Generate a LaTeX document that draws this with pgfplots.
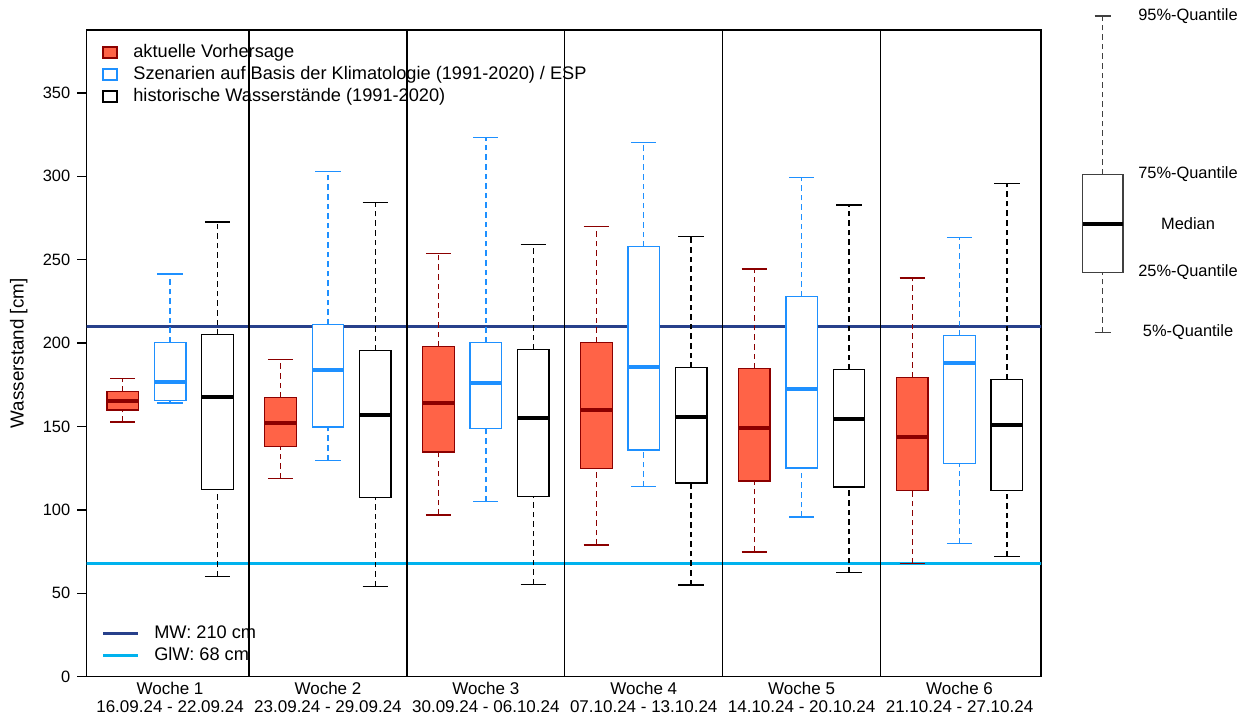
\documentclass[border=0pt]{standalone}
\usepackage{fontspec}
\setmainfont{Liberation Sans}
\usepackage{pgfplots}
\pgfplotsset{compat=1.18}
\definecolor{tomato}{HTML}{FF6347}
\definecolor{dkred}{HTML}{8B0000}
\definecolor{dblue}{HTML}{1E90FF}
\definecolor{mwcol}{HTML}{27408B}
\definecolor{giwcol}{HTML}{00B2EE}
\newcommand\fs{\fontsize{8.2}{9.2}\selectfont}
\newcommand\fsx{\fontsize{8.5}{9.2}\selectfont}
\newcommand\fsl{\fontsize{9.1}{10.5}\selectfont}
\newcommand\fsy{\fontsize{9.4}{11}\selectfont}
\pgfplotsset{
  sqlegend/.style={legend image code/.code={\draw[##1] (0pt,-2.8pt) rectangle (7pt,2.8pt);}},
  linelegend/.style={legend image code/.code={\draw[##1] (0pt,0pt) -- (17.5pt,0pt);}},
}
% #1 line colour, #2 fill colour, #3 position, #4 5%, #5 25%, #6 median, #7 75%, #8 95%
\newcommand{\bx}[8]{%
  \pgfmathsetmacro\bxl{#3-0.1}\pgfmathsetmacro\bxr{#3+0.1}%
  \pgfmathsetmacro\bcl{#3-0.08}\pgfmathsetmacro\bcr{#3+0.08}%
  \addplot[#1, line width=0.65pt, dash pattern=on 2.8pt off 2pt, forget plot] coordinates {(#3,#4) (#3,#5)};
  \addplot[#1, line width=0.65pt, dash pattern=on 2.8pt off 2pt, forget plot] coordinates {(#3,#7) (#3,#8)};
  \addplot[#1, line width=0.65pt, forget plot] coordinates {(\bcl,#4) (\bcr,#4)};
  \addplot[#1, line width=0.65pt, forget plot] coordinates {(\bcl,#8) (\bcr,#8)};
  \addplot[draw=#1, fill=#2, line width=0.65pt, forget plot] coordinates {(\bxl,#5) (\bxr,#5) (\bxr,#7) (\bxl,#7)} -- cycle;
  \addplot[#1, line width=2pt, forget plot] coordinates {(\bxl,#6) (\bxr,#6)};
}
\begin{document}
\begin{tikzpicture}
\path[use as bounding box] (0,0) rectangle (624.5pt,358.5pt);
\begin{axis}[
  at={(43.35pt,20.15pt)}, anchor=south west,
  scale only axis, width=477.15pt, height=323.35pt,
  xmin=0.472, xmax=6.516, ymin=0, ymax=387.7,
  axis line style={line width=0.65pt},
  ytick={0,50,...,350},
  tick align=outside, major tick length=4.75pt,
  ytick pos=left, xtick pos=bottom,
  tick style={black, line width=0.65pt},
  xtick={1,...,6}, xtick style={draw=none},
  xticklabels={{Woche 1\\16.09.24 - 22.09.24},{Woche 2\\23.09.24 - 29.09.24},{Woche 3\\30.09.24 - 06.10.24},{Woche 4\\07.10.24 - 13.10.24},{Woche 5\\14.10.24 - 20.10.24},{Woche 6\\21.10.24 - 27.10.24}},
  xticklabel style={align=center, font=\fsx, yshift=5.6pt},
  yticklabel style={font=\fs},
  /pgf/number format/assume math mode=true,
  ylabel={Wasserstand [cm]},
  ylabel style={font=\fsy, at={(axis description cs:-0.0713,0.5)}, anchor=center},
  legend style={at={(axis description cs:0.016,0.979)}, anchor=north west, draw=none, fill=none, inner sep=0pt, font=\fsl, row sep=2.5pt, column sep=7.85pt, nodes={inner sep=0pt, text height=6.6pt, text depth=1.9pt}},
  legend cell align=left,
]
\addplot[mwcol, line width=1.5pt, forget plot] coordinates {(0,210) (7,210)};
\addplot[giwcol, line width=1.5pt, forget plot] coordinates {(0,68) (7,68)};
\addplot[black, line width=0.65pt, forget plot] coordinates {(1.5,0) (1.5,400)};
\addplot[black, line width=0.65pt, forget plot] coordinates {(2.5,0) (2.5,400)};
\addplot[black, line width=0.65pt, forget plot] coordinates {(3.5,0) (3.5,400)};
\addplot[black, line width=0.65pt, forget plot] coordinates {(4.5,0) (4.5,400)};
\addplot[black, line width=0.65pt, forget plot] coordinates {(5.5,0) (5.5,400)};
% week 1
\bx{dkred}{tomato}{0.7}{152.7}{159.9}{165.5}{170.8}{178.9}
\bx{dblue}{white}{1.0}{164}{165.5}{176.5}{200.4}{241.5}
\bx{black}{white}{1.3}{60}{112.4}{167.7}{205}{272.6}
% week 2
\bx{dkred}{tomato}{1.7}{118.7}{137.9}{152.1}{167.2}{190}
\bx{dblue}{white}{2.0}{129.8}{149.7}{183.8}{211.2}{303}
\bx{black}{white}{2.3}{54.1}{107.4}{156.9}{195.4}{284.4}
% week 3
\bx{dkred}{tomato}{2.7}{97}{134.7}{164.1}{197.8}{253.5}
\bx{dblue}{white}{3.0}{105}{148.7}{176.2}{200.4}{323.2}
\bx{black}{white}{3.3}{55.3}{108}{155.3}{196}{259.1}
% week 4
\bx{dkred}{tomato}{3.7}{79}{124.7}{159.9}{200.4}{270}
\bx{dblue}{white}{4.0}{114}{135.9}{185.4}{257.7}{320.4}
\bx{black}{white}{4.3}{54.9}{116.2}{155.5}{185.2}{264}
% week 5
\bx{dkred}{tomato}{4.7}{74.7}{117.4}{149.1}{184.6}{244.5}
\bx{dblue}{white}{5.0}{95.8}{125.1}{172.6}{228}{299.2}
\bx{black}{white}{5.3}{62.3}{113.8}{154.7}{184}{282.8}
% week 6
\bx{dkred}{tomato}{5.7}{67.7}{111.6}{143.7}{179.5}{239.1}
\bx{dblue}{white}{6.0}{79.8}{127.7}{188.2}{204.4}{263.5}
\bx{black}{white}{6.3}{71.9}{111.8}{150.7}{178.3}{295.6}
\addlegendimage{sqlegend, draw=dkred, fill=tomato, line width=0.65pt}
\addlegendentry{aktuelle Vorhersage}
\addlegendimage{sqlegend, draw=dblue, fill=white, line width=0.65pt}
\addlegendentry{Szenarien auf Basis der Klimatologie (1991-2020) / ESP}
\addlegendimage{sqlegend, draw=black, fill=white, line width=0.65pt}
\addlegendentry{historische Wasserstände (1991-2020)}
\end{axis}
\begin{axis}[
  at={(43.35pt,20.15pt)}, anchor=south west,
  scale only axis, width=477.15pt, height=323.35pt,
  xmin=0.472, xmax=6.516, ymin=0, ymax=387.7,
  hide axis,
  legend style={at={(axis description cs:0.0155,0.019)}, anchor=south west, draw=none, fill=none, inner sep=0pt, font=\fsl, row sep=2.5pt, column sep=7.2pt, nodes={inner sep=0pt, text height=6.6pt, text depth=1.9pt}},
  legend cell align=left,
]
\addlegendimage{linelegend, mwcol, line width=1.5pt}
\addlegendentry{MW: 210 cm}
\addlegendimage{linelegend, giwcol, line width=1.5pt}
\addlegendentry{GlW: 68 cm}
\end{axis}
\begin{axis}[
  at={(531.25pt,192.35pt)}, anchor=south west,
  scale only axis, width=40.3pt, height=158.15pt,
  xmin=0, xmax=2, ymin=384.7, ymax=701,
  hide axis, clip=false,
]
\addplot[black!75, line width=0.6pt, dash pattern=on 2.8pt off 2pt] coordinates {(1,384.7) (1,444.7)};
\addplot[black!75, line width=0.6pt, dash pattern=on 2.8pt off 2pt] coordinates {(1,542.7) (1,701)};
\addplot[black!75, line width=0.6pt] coordinates {(0.795,384.7) (1.205,384.7)};
\addplot[black!75, line width=0.6pt] coordinates {(0.795,701) (1.205,701)};
\addplot[draw=black!75, fill=white, line width=0.6pt] coordinates {(0.5,444.7) (1.5,444.7) (1.5,542.7) (0.5,542.7)} -- cycle;
\addplot[black, line width=2pt] coordinates {(0.5,493) (1.5,493)};
\node[font=\fs] at (axis cs:3.114,701) {95\%-Quantile};
\node[font=\fs] at (axis cs:3.114,542.7) {75\%-Quantile};
\node[font=\fs] at (axis cs:3.114,493) {Median};
\node[font=\fs] at (axis cs:3.114,444.7) {25\%-Quantile};
\node[font=\fs] at (axis cs:3.114,384.7) {5\%-Quantile};
\end{axis}
\end{tikzpicture}
\end{document}
